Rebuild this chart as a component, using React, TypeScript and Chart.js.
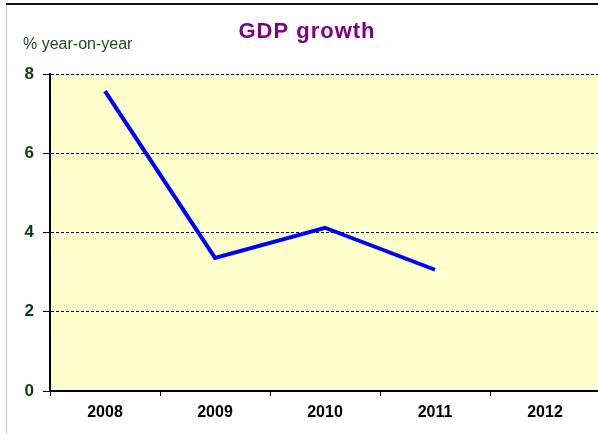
import React, { useEffect, useRef } from "react";
import { Chart, registerables } from "chart.js";

Chart.register(...registerables);

const categories = ["2008", "2009", "2010", "2011", "2012"];
const gdpGrowth: (number | null)[] = [7.57, 3.36, 4.12, 3.06, null];
const yTicks = [0, 2, 4, 6, 8];
const titleText = "GDP growth";
const yLabelText = "% year-on-year";

const FONT = "'Liberation Sans', Arial, sans-serif";

const decorPlugin = {
  id: "decor",
  beforeDraw(chart: any) {
    const { ctx, chartArea } = chart;
    ctx.save();
    ctx.fillStyle = "#ffffff";
    ctx.fillRect(0, 0, chart.width, chart.height);
    ctx.fillStyle = "#FFFFCC";
    ctx.fillRect(chartArea.left, chartArea.top, chartArea.right - chartArea.left, chartArea.bottom - chartArea.top);
    ctx.restore();
  },
  afterDraw(chart: any) {
    const { ctx } = chart;
    ctx.save();
    // frame
    ctx.fillStyle = "#c8c8c8";
    ctx.fillRect(6, 4, 1, chart.height);
    ctx.fillStyle = "#111111";
    ctx.fillRect(6, 3, chart.width, 2);
    // title
    ctx.fillStyle = "#800080";
    ctx.font = `bold 22px ${FONT}`;
    try {
      (ctx as any).letterSpacing = "1px";
    } catch (e) {}
    ctx.textAlign = "center";
    ctx.textBaseline = "alphabetic";
    ctx.fillText(titleText, 307, 38);
    try {
      (ctx as any).letterSpacing = "0px";
    } catch (e) {}
    // y label
    ctx.fillStyle = "#1a4d1a";
    ctx.font = `16px ${FONT}`;
    ctx.textAlign = "left";
    ctx.fillText(yLabelText, 23, 49);
    ctx.restore();
  },
};

export default function App() {
  const ref = useRef<HTMLCanvasElement | null>(null);
  useEffect(() => {
    if (!ref.current) return;
    const chart = new Chart(ref.current, {
      type: "line",
      data: {
        labels: categories,
        datasets: [
          {
            data: gdpGrowth,
            borderColor: "#0000FF",
            borderWidth: 4,
            pointRadius: 0,
            tension: 0,
            fill: false,
            spanGaps: false,
          },
        ],
      },
      options: {
        animation: false,
        responsive: false,
        devicePixelRatio: 1,
        layout: { padding: { top: 74, left: 0, right: 0, bottom: 0 } },
        plugins: {
          legend: { display: false },
          title: { display: false },
          tooltip: { enabled: false },
        },
        scales: {
          x: {
            type: "category",
            offset: true,
            afterFit(scale: any) {
              scale.height = 43;
            },
            grid: {
              offset: true,
              drawOnChartArea: false,
              drawTicks: true,
              tickLength: 5,
              tickColor: "#000000",
              tickWidth: 1,
            },
            border: { display: true, color: "#000000", width: 2 },
            ticks: {
              color: "#000000",
              font: { family: FONT, size: 16, weight: "bold" },
              padding: 7,
              maxRotation: 0,
            },
          },
          y: {
            min: 0,
            max: 8,
            afterFit(scale: any) {
              scale.width = 50;
            },
            afterBuildTicks(scale: any) {
              scale.ticks = yTicks.map((v) => ({ value: v }));
            },
            grid: {
              color: "#000080",
              lineWidth: 1,
              drawTicks: true,
              tickLength: 7,
              tickColor: "#000000",
              tickBorderDash: [],
              tickWidth: 1,
            },
            border: { display: true, color: "#000000", width: 2, dash: [3, 2] },
            ticks: {
              color: "#0d3d0d",
              font: { family: FONT, size: 17, weight: "bold" },
              padding: 9,
            },
          },
        },
      },
      plugins: [decorPlugin],
    } as any);
    return () => chart.destroy();
  }, []);
  return (
    <div style={{ position: "fixed", left: 0, top: 0, width: 598, height: 434, overflow: "hidden", background: "#fff" }}>
      <canvas ref={ref} width={600} height={434} style={{ display: "block", width: 600, height: 434 }} />
    </div>
  );
}
